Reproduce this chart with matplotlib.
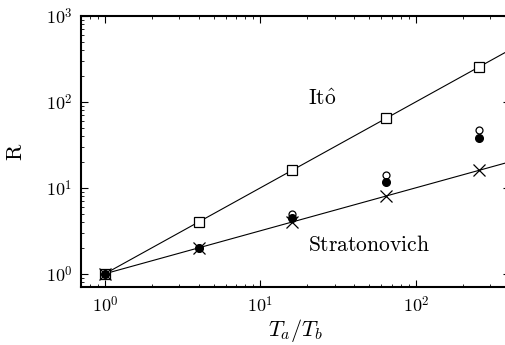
import numpy as np
import matplotlib
matplotlib.use("Agg")
import matplotlib.pyplot as plt

plt.rcParams['mathtext.fontset'] = 'cm'
plt.rcParams['font.family'] = 'serif'
plt.rcParams['font.serif'] = ['cmr10', 'DejaVu Serif']
plt.rcParams['axes.formatter.use_mathtext'] = True

# Temperature ratios
ratio = [1, 4, 16, 64, 256]
# Simulated R values
ito_R = [1, 4, 16, 64, 256]
strat_R = [1, 2, 4, 8, 16]
open_R = [1, 2.0, 5.0, 14.0, 46.5]
filled_R = [1, 2.0, 4.4, 11.7, 38.2]
# Theory curves: R = Ta/Tb (Ito), R = sqrt(Ta/Tb) (Stratonovich)
theory_x = [1, 400]
ito_theory = [1, 400]
strat_theory = [1, 20]

xticks = [1, 10, 100]
xtick_labels = [r'$10^{0}$', r'$10^{1}$', r'$10^{2}$']
yticks = [1, 10, 100, 1000]
ytick_labels = [r'$10^{0}$', r'$10^{1}$', r'$10^{2}$', r'$10^{3}$']

fig = plt.figure(figsize=(5.06, 3.45), dpi=100)
ax = fig.add_axes([0.160, 0.168, 0.847, 0.786])
ax.set_xscale('log')
ax.set_yscale('log')

ax.plot(theory_x, ito_theory, color='black', lw=0.8, zorder=2)
ax.plot(theory_x, strat_theory, color='black', lw=0.8, zorder=2)
ax.plot(ratio, ito_R, ls='none', marker='s', ms=7.5, mfc='white', mec='black', mew=0.9, zorder=3)
ax.plot(ratio, strat_R, ls='none', marker='x', ms=8.5, mec='black', mew=0.9, zorder=3)
ax.plot(ratio, open_R, ls='none', marker='o', ms=5, mfc='white', mec='black', mew=0.9, zorder=4)
ax.plot(ratio, filled_R, ls='none', marker='o', ms=5.5, mfc='black', mec='black', zorder=5)

ax.set_xlim(0.7, 400)
ax.set_ylim(0.7, 1000)
ax.set_xticks(xticks)
ax.set_xticklabels(xtick_labels)
ax.set_yticks(yticks)
ax.set_yticklabels(ytick_labels)

ax.tick_params(which='both', direction='in', top=True, right=True, labelsize=13, pad=6)
ax.tick_params(which='major', length=5, width=0.8)
ax.tick_params(which='minor', length=2.5, width=0.6)
for s in ax.spines.values():
    s.set_linewidth(1.5)

ax.set_xlabel(r'$T_a/T_b$', fontsize=16, labelpad=1)
ax.set_ylabel(r'$\mathrm{R}$', fontsize=16, labelpad=14)

ax.text(25, 107, r'$\mathrm{It\hat{o}}$', fontsize=15.5, ha='center', va='center')
ax.text(50, 2.14, r'$\mathrm{Stratonovich}$', fontsize=15.5, ha='center', va='center')

fig.savefig('out.png', dpi=100)
